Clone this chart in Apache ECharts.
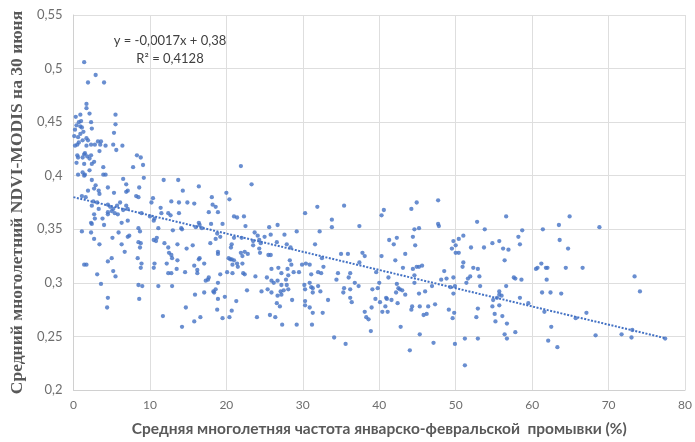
<!DOCTYPE html>
<html><head><meta charset="utf-8">
<script src="https://cdn.jsdelivr.net/npm/echarts@6/dist/echarts.min.js"></script>
<style>html,body{margin:0;padding:0;background:#fff}#c{width:695px;height:442px}</style>
</head><body><div id="c"></div>
<script>
// [частота промывки %, NDVI 30 июня]
const scatterPoints = [
[1.4,0.506],[2.9,0.494],[1.9,0.487],[4.0,0.487],[1.7,0.467],[1.7,0.463],[2.1,0.458],[0.9,0.457],[0.3,0.455],[5.5,0.457],[1.0,0.451],[0.7,0.450],[2.3,0.450],[5.5,0.448],[0.4,0.447],[0.9,0.446],[1.1,0.445],[0.2,0.443],[1.3,0.441],[2.4,0.444],[0.9,0.439],[5.3,0.440],[0.1,0.437],[0.6,0.436],[1.7,0.435],[1.2,0.433],[0.7,0.431],[1.9,0.433],[3.2,0.432],[3.6,0.432],[0.5,0.429],[0.2,0.428],[1.7,0.428],[2.3,0.429],[2.8,0.429],[3.5,0.429],[4.2,0.428],[5.2,0.429],[6.4,0.428],[5.6,0.424],[3.4,0.423],[1.5,0.421],[0.5,0.419],[1.4,0.420],[1.8,0.418],[2.3,0.419],[0.6,0.417],[1.2,0.417],[2.1,0.416],[8.3,0.419],[8.8,0.417],[2.7,0.413],[0.4,0.412],[1.4,0.411],[2.4,0.411],[9.1,0.410],[7.8,0.408],[3.9,0.408],[2.1,0.405],[1.2,0.403],[0.6,0.401],[1.5,0.401],[1.4,0.400],[3.9,0.401],[4.2,0.401],[9.2,0.398],[6.5,0.397],[11.8,0.396],[13.7,0.396],[2.4,0.396],[2.9,0.391],[4.5,0.389],[6.9,0.392],[8.6,0.389],
[1.1,0.381],[1.6,0.380],[1.9,0.386],[2.7,0.388],[3.4,0.383],[3.3,0.386],[5.3,0.384],[6.9,0.385],[7.1,0.386],[8.2,0.381],[8.5,0.380],[10.4,0.379],[14.3,0.386],[14.9,0.375],[12.8,0.376],[13.8,0.375],[10.2,0.375],[11.4,0.370],[2.6,0.376],[3.1,0.375],[2.4,0.372],[3.3,0.369],[4.5,0.373],[4.8,0.371],[6.1,0.375],[5.7,0.372],[6.9,0.372],[6.5,0.368],[7.1,0.369],[5.2,0.369],[5.0,0.367],[4.5,0.366],[5.4,0.365],[5.8,0.364],[4.5,0.364],[8.9,0.365],[2.7,0.364],[2.8,0.360],[3.8,0.360],[2.3,0.356],[2.4,0.355],[4.0,0.354],[6.3,0.356],[7.1,0.358],[8.5,0.351],[8.7,0.348],[10.0,0.362],[10.6,0.360],[10.5,0.358],[11.5,0.365],[12.4,0.365],[12.7,0.363],[13.8,0.365],[11.1,0.351],[13.0,0.349],[14.1,0.351],[14.2,0.350],[1.1,0.348],[2.3,0.347],[5.9,0.347],[7.3,0.344],[7.1,0.343],[2.7,0.341],[5.1,0.342],[3.4,0.336],[6.3,0.336],[8.5,0.338],[8.8,0.337],[8.7,0.333],[10.5,0.340],[10.9,0.342],[10.8,0.339],[11.9,0.337],[12.4,0.333],[12.5,0.328],[12.8,0.326],[12.9,0.323],[13.6,0.336],[14.8,0.332],[6.7,0.329],[1.4,0.317],[1.7,0.317],[4.5,0.320],[5.0,0.323],[8.4,0.323],[8.9,0.318],[8.8,0.314],[10.6,0.318],[10.5,0.314],[12.2,0.318],[13.6,0.321],[13.5,0.313],[12.4,0.309],[12.8,0.309],[5.2,0.311],[5.5,0.306],[3.1,0.308],[3.6,0.299],[8.5,0.298],[9.0,0.297],[11.1,0.297],[12.9,0.297],[4.5,0.286],[8.6,0.285],[4.4,0.277],[11.7,0.269],[14.2,0.259],[14.7,0.277],
[21.9,0.409],[23.3,0.392],[16.4,0.390],[15.8,0.374],[18.1,0.380],[20.0,0.384],[20.4,0.378],[18.2,0.373],[18.6,0.371],[17.7,0.366],[18.9,0.366],[21.0,0.362],[21.4,0.361],[22.3,0.362],[22.5,0.353],[16.4,0.356],[16.5,0.354],[16.0,0.352],[16.8,0.351],[18.0,0.355],[19.5,0.355],[23.7,0.347],[25.6,0.352],[26.7,0.354],[30.3,0.365],[29.2,0.348],[18.8,0.346],[19.2,0.343],[18.6,0.341],[21.0,0.342],[22.0,0.342],[24.1,0.344],[24.3,0.340],[25.0,0.343],[25.8,0.345],[23.5,0.339],[23.5,0.335],[24.5,0.337],[24.3,0.332],[24.4,0.328],[27.6,0.345],[26.6,0.338],[27.9,0.336],[28.4,0.333],[25.5,0.326],[25.8,0.326],[15.6,0.335],[17.9,0.337],[20.7,0.336],[20.6,0.333],[18.9,0.329],[18.9,0.327],[21.9,0.328],[22.4,0.329],[22.1,0.325],[22.8,0.327],[16.5,0.323],[16.4,0.322],[17.1,0.318],[15.8,0.316],[16.2,0.312],[16.2,0.309],[14.6,0.310],[20.3,0.323],[20.5,0.322],[20.7,0.322],[21.0,0.321],[21.4,0.318],[20.8,0.317],[21.5,0.315],[22.1,0.318],[20.1,0.310],[20.8,0.309],[22.2,0.309],[22.4,0.308],[19.2,0.308],[23.8,0.306],[28.3,0.321],[25.9,0.313],[26.8,0.314],[28.0,0.313],[27.2,0.309],[28.5,0.317],[28.8,0.310],[28.1,0.307],[29.5,0.310],[29.9,0.317],[30.4,0.318],[30.9,0.317],[25.3,0.305],[17.7,0.305],
[17.3,0.302],[17.6,0.303],[18.9,0.300],[15.9,0.289],[17.1,0.291],[18.3,0.292],[18.6,0.294],[18.4,0.291],[18.9,0.285],[19.8,0.287],[21.3,0.283],[18.8,0.275],[20.7,0.274],[19.5,0.267],[20.4,0.268],[16.6,0.268],[15.8,0.264],[22.7,0.293],[24.6,0.292],[25.4,0.294],[25.9,0.302],[26.2,0.300],[26.7,0.302],[27.2,0.298],[27.8,0.303],[27.9,0.298],[25.9,0.291],[26.7,0.288],[27.1,0.292],[27.5,0.293],[28.1,0.294],[27.2,0.289],[26.6,0.281],[27.0,0.278],[28.6,0.284],[24.0,0.268],[25.7,0.270],[26.4,0.268],[27.3,0.261],[29.2,0.261],[30.3,0.283],[30.3,0.279],[30.9,0.277],[30.2,0.298],[30.3,0.294],[30.9,0.300],
[31.9,0.371],[35.4,0.372],[33.8,0.359],[33.8,0.352],[32.2,0.348],[37.4,0.353],[40.3,0.363],[40.6,0.368],[44.2,0.369],[44.9,0.375],[44.6,0.350],[45.2,0.351],[44.4,0.343],[44.7,0.335],[41.3,0.340],[42.3,0.342],[41.9,0.336],[43.4,0.327],[42.1,0.321],[40.3,0.325],[43.1,0.314],[31.6,0.336],[35.0,0.327],[35.9,0.327],[37.8,0.328],[38.1,0.325],[32.5,0.323],[37.4,0.319],[32.7,0.315],[32.0,0.310],[32.4,0.309],[31.1,0.308],[34.6,0.309],[36.2,0.309],[36.0,0.305],[36.8,0.300],[34.4,0.303],[37.3,0.297],[39.6,0.310],[40.0,0.300],[41.2,0.305],[39.8,0.295],[39.1,0.294],[44.4,0.313],[44.9,0.315],[45.2,0.315],[45.6,0.316],[44.6,0.307],[44.6,0.300],[42.3,0.299],[42.5,0.295],[42.7,0.294],[43.0,0.293],[42.2,0.291],[43.4,0.289],[45.2,0.290],[46.0,0.292],[31.1,0.296],[31.3,0.295],[32.0,0.297],[32.3,0.292],[31.3,0.291],[35.4,0.295],[35.3,0.291],[36.2,0.294],[36.2,0.286],[36.4,0.282],[33.3,0.284],[31.3,0.272],[32.6,0.272],[31.2,0.261],[34.1,0.249],[35.6,0.243],[38.1,0.273],[38.3,0.268],[38.6,0.266],[38.9,0.255],[39.0,0.277],[39.5,0.285],[40.1,0.282],[40.4,0.273],[40.9,0.286],[41.0,0.285],[40.8,0.278],[41.1,0.273],[41.6,0.284],[42.4,0.281],[42.8,0.259],[44.0,0.237],[44.2,0.275],[44.3,0.278],[45.3,0.278],[45.8,0.270],[46.2,0.271],[45.3,0.252],[46.4,0.278],
[47.7,0.377],[47.7,0.355],[47.8,0.353],[52.8,0.357],[53.8,0.350],[56.6,0.362],[58.7,0.349],[61.4,0.350],[49.7,0.339],[50.4,0.341],[51.0,0.344],[50.0,0.335],[49.5,0.332],[50.0,0.328],[50.4,0.328],[52.0,0.333],[53.7,0.333],[54.8,0.337],[55.7,0.339],[56.2,0.332],[56.9,0.331],[56.4,0.321],[58.2,0.343],[58.4,0.336],[51.0,0.319],[50.9,0.315],[52.3,0.314],[52.9,0.313],[53.1,0.306],[48.5,0.311],[48.1,0.303],[48.8,0.304],[49.7,0.305],[51.9,0.306],[51.6,0.304],[51.4,0.300],[53.2,0.297],[46.9,0.297],[49.3,0.296],[49.9,0.297],[49.7,0.290],[57.6,0.305],[57.8,0.304],[58.6,0.303],[56.6,0.297],[60.5,0.313],[60.7,0.314],[61.2,0.318],[61.8,0.314],[61.9,0.303],[61.3,0.291],[55.7,0.292],[55.7,0.289],[56.0,0.288],[55.4,0.286],[54.9,0.284],[54.8,0.278],[55.7,0.279],[55.1,0.271],[56.1,0.269],[55.2,0.264],[56.7,0.262],[56.4,0.252],[56.7,0.248],[57.8,0.254],[58.4,0.286],[59.5,0.281],[61.6,0.273],[47.3,0.280],[47.1,0.244],[49.1,0.275],[49.8,0.272],[49.6,0.267],[49.9,0.243],[51.2,0.248],[52.9,0.248],[51.2,0.223],[52.7,0.268],[52.9,0.276],
[63.5,0.354],[64.9,0.362],[68.8,0.352],[63.6,0.340],[64.7,0.332],[62.0,0.314],[64.4,0.314],[66.6,0.314],[73.4,0.306],[74.1,0.292],[62.4,0.291],[63.8,0.290],[67.1,0.272],[65.7,0.267],[62.5,0.259],[68.3,0.251],[71.7,0.252],[73.1,0.256],[73.0,0.249],[77.4,0.248],[62.1,0.246],[63.3,0.240]
];
const trendSlope = -0.0017;
const trendIntercept = 0.38;
const trendXRange = [0, 77.4];
const equationLines = ['y = -0,0017x + 0,38', 'R² = 0,4128'];
const xTicks = [0, 10, 20, 30, 40, 50, 60, 70, 80];
const yTicks = [0.2, 0.25, 0.3, 0.35, 0.4, 0.45, 0.5, 0.55];
const xTitle = 'Средняя многолетняя частота январско-февральской  промывки (%)';
const yTitle = 'Средний многолетний NDVI-MODIS на 30 июня';

const trendData = trendXRange.map(x => [x, trendIntercept + trendSlope * x]);
const fmtY = v => String(parseFloat(v.toFixed(2))).replace('.', ',');

const chart = echarts.init(document.getElementById('c'), null, {renderer: 'canvas'});
chart.setOption({
  backgroundColor: '#ffffff',
  animation: false,
  grid: {left: 68, right: 5, top: 15, bottom: 47.5, containLabel: false},
  xAxis: {
    type: 'value', min: xTicks[0], max: xTicks[xTicks.length - 1], interval: 10,
    axisLine: {show: true, lineStyle: {color: '#d0d0d0', width: 1}},
    axisTick: {show: false},
    splitLine: {show: true, lineStyle: {color: '#dedede', width: 1}},
    axisLabel: {color: '#6e6e6e', fontSize: 12, fontFamily: 'Lato', margin: 9},
    name: xTitle, nameLocation: 'middle', nameGap: 31,
    nameTextStyle: {color: '#595959', fontSize: 15.5, fontWeight: 'bold', fontFamily: 'Lato'}
  },
  yAxis: {
    type: 'value', min: yTicks[0], max: yTicks[yTicks.length - 1], interval: 0.05,
    axisLine: {show: true, lineStyle: {color: '#d0d0d0', width: 1}},
    axisTick: {show: false},
    splitLine: {show: true, lineStyle: {color: '#dedede', width: 1}},
    axisLabel: {color: '#6e6e6e', fontSize: 13, fontFamily: 'Lato', margin: 11, formatter: fmtY},
    name: yTitle, nameLocation: 'middle', nameGap: 43,
    nameTextStyle: {color: '#595959', fontSize: 17.5, fontWeight: 'bold', fontFamily: 'Liberation Serif'}
  },
  graphic: [
    {type: 'text', x: 170, y: 41, style: {text: equationLines[0], fill: '#404040', font: '13px Lato', textAlign: 'center', textVerticalAlign: 'middle'}},
    {type: 'text', x: 170, y: 59, style: {text: equationLines[1], fill: '#404040', font: '13px Lato', textAlign: 'center', textVerticalAlign: 'middle'}}
  ],
  series: [
    {
      type: 'scatter', data: scatterPoints, symbol: 'circle', symbolSize: 4.3,
      itemStyle: {color: '#4472C4'}
    },
    {
      type: 'line', data: trendData, symbol: 'none', silent: true,
      lineStyle: {color: '#4472C4', width: 2, type: [2, 1.5]}
    }
  ]
});
</script>
</body></html>
